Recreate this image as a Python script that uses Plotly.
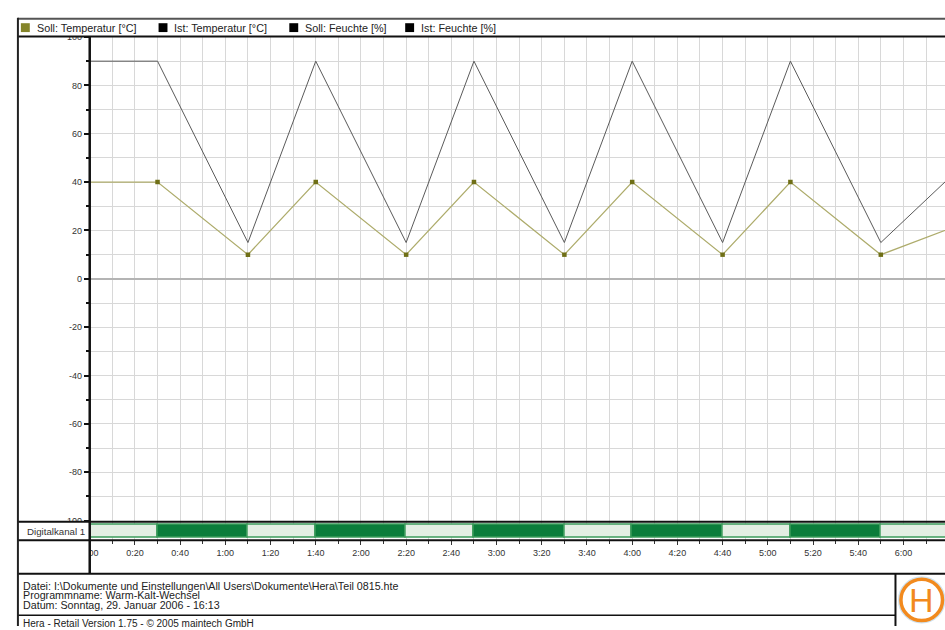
import plotly.graph_objects as go

W, H = 945, 630
def PX(x): return x / W
def PY(y): return 1 - y / H

# ---------------- data ----------------
time_min = [0, 30, 70, 100, 140, 170, 210, 240, 280, 310, 350, 435]
soll_temperatur = [40, 40, 10, 40, 10, 40, 10, 40, 10, 40, 10, 40]
soll_feuchte = [90, 90, 15, 90, 15, 90, 15, 90, 15, 90, 15, 90]

digital_start = [0, 30, 70, 100, 140, 170, 210, 240, 280, 310, 350]
digital_end = [30, 70, 100, 140, 170, 210, 240, 280, 310, 350, 435]
digital_state = [0, 1, 0, 1, 0, 1, 0, 1, 0, 1, 0]

x_tickvals = [0, 20, 40, 60, 80, 100, 120, 140, 160, 180, 200, 220, 240,
              260, 280, 300, 320, 340, 360, 380]
x_ticktext = ["0:00", "0:20", "0:40", "1:00", "1:20", "1:40", "2:00", "2:20",
              "2:40", "3:00", "3:20", "3:40", "4:00", "4:20", "4:40", "5:00",
              "5:20", "5:40", "6:00", "6:20"]
y_tickvals = [-100, -80, -60, -40, -20, 0, 20, 40, 60, 80, 100]
y_ticktext = ["-100", "-80", "-60", "-40", "-20", "0", "20", "40", "60", "80", "100"]

legend_labels = ["Soll: Temperatur [°C]", "Ist: Temperatur [°C]",
                 "Soll: Feuchte [%]", "Ist: Feuchte [%]"]
legend_colors = ["#85852a", "#000000", "#000000", "#000000"]

footer_lines = [
    "Datei: I:\\Dokumente und Einstellungen\\All Users\\Dokumente\\Hera\\Teil 0815.hte",
    "Programmname: Warm-Kalt-Wechsel",
    "Datum: Sonntag, 29. Januar 2006 - 16:13",
]
version_text = "Hera - Retail Version 1.75 - © 2005 maintech GmbH"

FONT = "Arial, Liberation Sans, Helvetica, sans-serif"

fig = go.Figure()

# main series
fig.add_trace(go.Scatter(x=time_min, y=soll_feuchte, mode="lines",
                         line=dict(color="#5a5a5a", width=1),
                         xaxis="x", yaxis="y", showlegend=False, hoverinfo="skip"))
fig.add_trace(go.Scatter(x=time_min, y=soll_temperatur, mode="lines",
                         line=dict(color="#aeac6c", width=1.3),
                         xaxis="x", yaxis="y", showlegend=False, hoverinfo="skip"))
fig.add_trace(go.Scatter(x=time_min[1:], y=soll_temperatur[1:], mode="markers",
                         marker=dict(symbol="square", size=4.5, color="#6f6f16"),
                         xaxis="x", yaxis="y", showlegend=False, hoverinfo="skip"))

# digital channel
dur = [e - s for s, e in zip(digital_start, digital_end)]
colors = ["#0b7d3b" if s else "#e3eee3" for s in digital_state]
fig.add_trace(go.Bar(orientation="h", y=[0] * len(dur), x=dur, base=digital_start,
                     width=0.66, marker=dict(color=colors, line=dict(color="#3c9c5c", width=1.5)),
                     xaxis="x", yaxis="y2", showlegend=False, hoverinfo="skip"))

grid = "#d8d8d8"
fig.update_layout(
    width=W, height=H, margin=dict(l=0, r=0, t=0, b=0),
    paper_bgcolor="white", plot_bgcolor="white",
    font=dict(family=FONT, size=9, color="#333"),
    xaxis=dict(domain=[PX(81.5), 1], range=[0, 378.4], anchor="y2",
               tickmode="array", tickvals=x_tickvals, ticktext=x_ticktext,
               ticks="outside", ticklen=4, tickcolor="#333", tickwidth=1,
               showgrid=True, gridcolor=grid, gridwidth=1, zeroline=False,
               showline=False, tickfont=dict(size=9, color="#333"),
               minor=dict(tickmode="linear", tick0=0, dtick=10, showgrid=True,
                          gridcolor=grid, ticks="outside", ticklen=3, tickcolor="#333")),
    yaxis=dict(domain=[PY(524), PY(32.5)], range=[-100, 100], anchor="x",
               tickmode="array", tickvals=y_tickvals, ticktext=y_ticktext,
               ticks="outside", ticklen=5, tickcolor="#111", tickwidth=1.5,
               showgrid=True, gridcolor=grid, gridwidth=1,
               zeroline=True, zerolinecolor="#b4b4b4", zerolinewidth=1.5,
               showline=False, tickfont=dict(size=9, color="#333"),
               minor=dict(tickmode="linear", tick0=0, dtick=10, showgrid=True,
                          gridcolor=grid, ticks="outside", ticklen=3, tickcolor="#111")),
    yaxis2=dict(domain=[PY(544), PY(525)], range=[-0.5, 0.5], anchor="x",
                showticklabels=False, showgrid=False, zeroline=False, ticks=""),
    bargap=0,
)

shapes = []
def rect(x0, y0, x1, y1, fill="white"):
    shapes.append(dict(type="rect", xref="paper", yref="paper", layer="above",
                       x0=PX(x0), x1=PX(x1), y0=PY(y1), y1=PY(y0),
                       fillcolor=fill, line=dict(width=0)))
def hline(y, x0, x1, color="#111", w=2):
    shapes.append(dict(type="line", xref="paper", yref="paper", layer="above",
                       x0=PX(x0), x1=PX(x1), y0=PY(y), y1=PY(y),
                       line=dict(color=color, width=w)))
def vline(x, y0, y1, color="#111", w=2):
    shapes.append(dict(type="line", xref="paper", yref="paper", layer="above",
                       x0=PX(x), x1=PX(x), y0=PY(y0), y1=PY(y1),
                       line=dict(color=color, width=w)))

# white masks
rect(9, 14, 946, 31.5)
rect(9, 525, 81, 544)
rect(9, 544, 81, 578)
rect(9, 578, 946, 631)

# frame lines
hline(14, 9, 946, "#555", 2)
hline(32, 9, 946, "#111", 2)
hline(525, 9, 946, "#111", 2)
hline(544, 9, 946, "#111", 2)
hline(578, 9, 946, "#111", 2)
hline(620, 9, 895, "#111", 1.5)
vline(9, 13, 631, "#222", 2)
vline(81.5, 32, 578, "#111", 2.5)
vline(895, 578, 631, "#111", 2)

# legend squares
leg_sq_x = [12, 151, 283, 400]
for x0, c in zip(leg_sq_x, legend_colors):
    shapes.append(dict(type="rect", xref="paper", yref="paper", layer="above",
                       x0=PX(x0), x1=PX(x0 + 9), y0=PY(27.5), y1=PY(18.5),
                       fillcolor=c, line=dict(width=0)))

# logo circle
shapes.append(dict(type="circle", xref="paper", yref="paper", layer="above",
                   x0=PX(898.5), x1=PX(944.5), y0=PY(627.5), y1=PY(581.5),
                   fillcolor="white", line=dict(color="#cfe2f0", width=2)))
shapes.append(dict(type="circle", xref="paper", yref="paper", layer="above",
                   x0=PX(900.5), x1=PX(942.5), y0=PY(625.5), y1=PY(583.5),
                   fillcolor="white", line=dict(color="#f28a1e", width=3.5)))
fig.update_layout(shapes=shapes)

ann = []
for x0, t in zip(leg_sq_x, legend_labels):
    ann.append(dict(x=PX(x0 + 14), y=PY(23), xref="paper", yref="paper",
                    text=t, showarrow=False, xanchor="left", yanchor="middle",
                    font=dict(size=10.8, color="#222", family=FONT)))
ann.append(dict(x=PX(79), y=PY(534.5), xref="paper", yref="paper", text="Digitalkanal 1",
                showarrow=False, xanchor="right", yanchor="middle",
                font=dict(size=9.7, color="#333", family=FONT)))
for i, t in enumerate(footer_lines):
    ann.append(dict(x=PX(12), y=PY(590 + i * 9.8), xref="paper", yref="paper", text=t,
                    showarrow=False, xanchor="left", yanchor="middle",
                    font=dict(size=10.7, color="#222", family=FONT)))
ann.append(dict(x=PX(12), y=PY(628), xref="paper", yref="paper", text=version_text,
                showarrow=False, xanchor="left", yanchor="middle",
                font=dict(size=10, color="#222", family=FONT)))
ann.append(dict(x=PX(921.5), y=PY(604.5), xref="paper", yref="paper", text="H",
                showarrow=False, xanchor="center", yanchor="middle",
                font=dict(size=34, color="#f28a1e", family=FONT)))
fig.update_layout(annotations=ann)

fig.write_html("out.html", config={"displayModeBar": False},
               post_script="document.body.style.margin='0';"
                           "document.body.style.overflow='hidden';")
